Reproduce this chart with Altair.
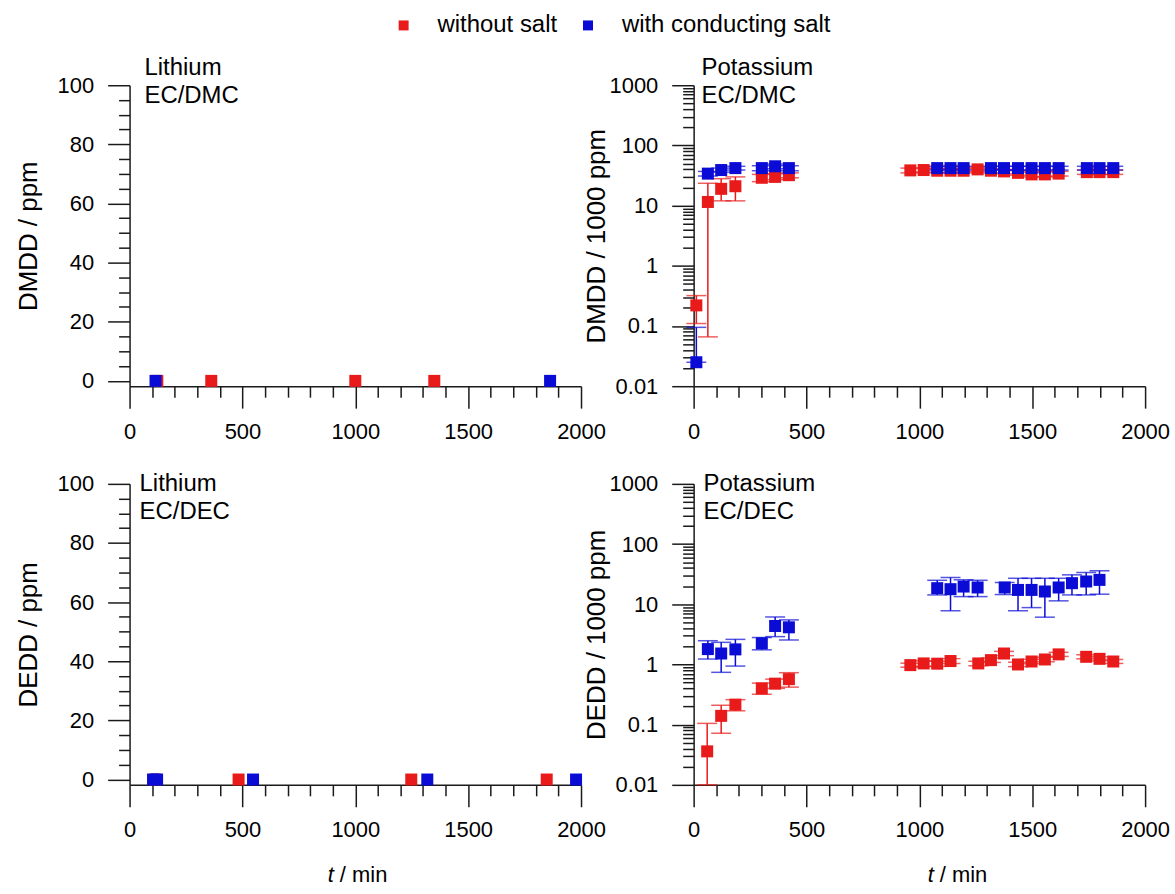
import altair as alt
import pandas as pd

RED = "#e81a1a"
BLUE = "#0b0bd6"
SERIES = ["without salt", "with conducting salt"]
FONT = "Liberation Sans"

# ---------------- data ----------------
# Lithium, EC/DMC  (DMDD / ppm)
li_dmc_red_t = [123, 362, 1000, 1350]
li_dmc_red_v = [0, 0, 0, 0]
li_dmc_blue_t = [115, 1863]
li_dmc_blue_v = [0, 0]

# Lithium, EC/DEC  (DEDD / ppm)
li_dec_red_t = [113, 483, 1248, 1848]
li_dec_red_v = [0, 0, 0, 0]
li_dec_blue_t = [104, 122, 547, 1319, 1978]
li_dec_blue_v = [0, 0, 0, 0, 0]

# Potassium, EC/DMC  (DMDD / 1000 ppm)
k_dmc_red_t = [12, 63, 122, 185, 302, 361, 422, 960, 1019, 1079, 1138, 1196, 1258, 1317, 1375, 1437, 1497, 1556, 1617, 1742, 1798, 1859]
k_dmc_red_v = [0.22, 11.5, 19, 21, 29, 30, 32, 38.5, 39, 38, 38, 38, 40, 38, 37, 35, 33, 33, 34, 36, 36, 36]
k_dmc_red_lo = [0.11, 0.066, 12, 12, 25, 27, 29, 35, 36, 35, 35, 35, 37, 35, 34, 32, 30, 30, 31, 33, 33, 33]
k_dmc_red_hi = [0.32, 23.5, 28, 30, 33, 34, 35, 42, 42, 41, 41, 41, 43, 41, 40, 38, 36, 36, 37, 39, 39, 39]
k_dmc_blue_t = [12, 63, 122, 185, 302, 361, 422, 1079, 1138, 1196, 1317, 1375, 1437, 1497, 1556, 1617, 1742, 1798, 1859]
k_dmc_blue_v = [0.025, 34, 39, 42, 42, 45, 42, 42, 42, 42, 42, 42, 42, 42, 42, 42, 42, 42, 42]
k_dmc_blue_lo = [0.025, 31, 36, 39, 38, 41, 38, 39, 39, 39, 39, 39, 39, 39, 39, 39, 39, 39, 39]
k_dmc_blue_hi = [0.095, 37, 42, 45, 46, 49, 46, 45, 45, 45, 45, 45, 45, 45, 45, 45, 45, 45, 45]

# Potassium, EC/DEC  (DEDD / 1000 ppm)
k_dec_red_t = [60, 122, 185, 302, 361, 422, 960, 1019, 1079, 1138, 1261, 1317, 1375, 1437, 1497, 1556, 1617, 1739, 1798, 1859]
k_dec_red_v = [0.036, 0.14, 0.215, 0.40, 0.48, 0.57, 0.975, 1.04, 1.03, 1.14, 1.04, 1.18, 1.52, 1.0, 1.12, 1.21, 1.47, 1.34, 1.24, 1.12]
k_dec_red_lo = [0.01, 0.072, 0.17, 0.32, 0.40, 0.42, 0.90, 0.93, 0.93, 1.04, 0.95, 1.08, 1.40, 0.92, 1.03, 1.11, 1.36, 1.24, 1.15, 1.04]
k_dec_red_hi = [0.105, 0.21, 0.26, 0.49, 0.57, 0.73, 1.05, 1.15, 1.13, 1.25, 1.13, 1.28, 1.65, 1.09, 1.22, 1.32, 1.59, 1.45, 1.34, 1.21]
k_dec_blue_t = [63, 122, 185, 302, 361, 422, 1079, 1138, 1196, 1258, 1378, 1437, 1497, 1556, 1617, 1676, 1739, 1798]
k_dec_blue_v = [1.8, 1.52, 1.78, 2.24, 4.35, 4.14, 18.5, 17.8, 19.7, 19, 19, 17.3, 17.3, 16.3, 19, 22.4, 23.9, 25.4]
k_dec_blue_lo = [1.23, 0.74, 0.94, 1.75, 2.9, 2.55, 14.3, 7.8, 13.4, 13.4, 14.5, 7.8, 8.8, 6.1, 11.4, 14.3, 14.3, 14.7]
k_dec_blue_hi = [2.48, 2.33, 2.61, 2.8, 6.15, 5.5, 25, 27.8, 25.5, 25, 23, 27, 27, 27, 27, 30.8, 33.7, 36]

x_major = [0, 500, 1000, 1500, 2000]
x_minor = [v for v in range(100, 2000, 100) if v % 500 != 0]
lin_major = [0, 20, 40, 60, 80, 100]
lin_minor = [v for v in range(5, 100, 5) if v % 20 != 0]
log_major = [0.01, 0.1, 1, 10, 100, 1000]
log_minor = [k * 10.0 ** e for e in range(-2, 3) for k in range(2, 10)]

W, H = 453, 302


def frame(red_t, red_v, blue_t, blue_v, red_lo=None, red_hi=None, blue_lo=None, blue_hi=None):
    rows = []
    for i, (t, v) in enumerate(zip(red_t, red_v)):
        rows.append(dict(t=t, v=v, lo=red_lo[i] if red_lo else v, hi=red_hi[i] if red_hi else v, s=SERIES[0]))
    for i, (t, v) in enumerate(zip(blue_t, blue_v)):
        rows.append(dict(t=t, v=v, lo=blue_lo[i] if blue_lo else v, hi=blue_hi[i] if blue_hi else v, s=SERIES[1]))
    return pd.DataFrame(rows)


LEGEND = alt.Legend(
    title=None, orient="none", legendX=263, legendY=-72, direction="horizontal",
    symbolType="square", symbolSize=100, symbolStrokeWidth=0,
    labelFontSize=24, labelFont=FONT, labelColor="black", labelOffset=22,
    columnPadding=18, labelLimit=400,
)
color_scale = alt.Scale(domain=SERIES, range=[RED, BLUE])


def panel(df, log, ytitle, title_pad, ann, ann_x, ann_y, errors, xtitle_x=None):
    xs = alt.Scale(domain=[0, 2000], nice=False, zero=False)
    if log:
        ys = alt.Scale(type="log", domain=[0.01, 1000], nice=False)
        ymaj, ymin, yfmt = log_major, log_minor, "~g"
    else:
        ys = alt.Scale(domain=[-1.8, 100], nice=False, zero=False)
        ymaj, ymin, yfmt = lin_major, lin_minor, "d"

    ax_x = alt.Axis(values=x_major, orient="bottom", tickSize=22, labelPadding=13, title=None,
                    format="d", labelFlush=False, labelOverlap=False, grid=False)
    ax_y = alt.Axis(values=ymaj, orient="left", tickSize=22, labelPadding=14, title=ytitle,
                    titlePadding=title_pad, format=yfmt, labelOverlap=False, grid=False)
    ax_xm = alt.Axis(values=x_minor, orient="bottom", tickSize=11, labels=False, domain=False,
                     title=None, grid=False)
    ax_ym = alt.Axis(values=ymin, orient="left", tickSize=11, labels=False, domain=False,
                     title=None, grid=False)

    base = alt.Chart(df)
    layers = [
        base.mark_point(opacity=0).encode(
            x=alt.X("t:Q", scale=xs, axis=ax_xm),
            y=alt.Y("v:Q", scale=ys, axis=ax_ym),
        )
    ]
    if errors:
        layers.append(
            base.mark_rule(strokeWidth=1.5).encode(
                x=alt.X("t:Q", scale=xs, axis=None),
                y=alt.Y("lo:Q", scale=ys, axis=None),
                y2="hi:Q",
                color=alt.Color("s:N", scale=color_scale, legend=None),
            )
        )
        layers.append(
            base.transform_fold(["lo", "hi"], as_=["k", "ev"]).mark_tick(
                orient="horizontal", size=20, thickness=1.5
            ).encode(
                x=alt.X("t:Q", scale=xs, axis=None),
                y=alt.Y("ev:Q", scale=ys, axis=None),
                color=alt.Color("s:N", scale=color_scale, legend=None),
            )
        )
    layers.append(
        base.mark_square(size=145, opacity=1).encode(
            x=alt.X("t:Q", scale=xs, axis=ax_x),
            y=alt.Y("v:Q", scale=ys, axis=ax_y),
            color=alt.Color("s:N", scale=color_scale, legend=LEGEND),
        )
    )
    layers.append(
        alt.Chart(pd.DataFrame({"label": ["\n".join(ann)]})).mark_text(
            align="left", baseline="alphabetic", fontSize=24, font=FONT, color="black",
            lineBreak="\n", lineHeight=28,
        ).encode(text="label:N", x=alt.value(ann_x), y=alt.value(ann_y))
    )
    if xtitle_x is not None:
        layers.append(
            alt.Chart(pd.DataFrame({"label": ["t"]})).mark_text(
                align="right", baseline="alphabetic", fontSize=22, font=FONT, fontStyle="italic",
                color="black",
            ).encode(text="label:N", x=alt.value(xtitle_x), y=alt.value(H + 97))
        )
        layers.append(
            alt.Chart(pd.DataFrame({"label": ["/ min"]})).mark_text(
                align="left", baseline="alphabetic", fontSize=22, font=FONT, color="black",
            ).encode(text="label:N", x=alt.value(xtitle_x + 6), y=alt.value(H + 97))
        )
    return alt.layer(*layers).resolve_axis(x="independent", y="independent").properties(width=W, height=H)


tl = panel(frame(li_dmc_red_t, li_dmc_red_v, li_dmc_blue_t, li_dmc_blue_v), False,
           "DMDD / ppm", 16, ["Lithium", "EC/DMC"], 15, -10, False)
tr = panel(frame(k_dmc_red_t, k_dmc_red_v, k_dmc_blue_t, k_dmc_blue_v,
                 k_dmc_red_lo, k_dmc_red_hi, k_dmc_blue_lo, k_dmc_blue_hi), True,
           "DMDD / 1000 ppm", 0, ["Potassium", "EC/DMC"], 8, -10, True)
bl = panel(frame(li_dec_red_t, li_dec_red_v, li_dec_blue_t, li_dec_blue_v), False,
           "DEDD / ppm", 16, ["Lithium", "EC/DEC"], 10, 7, False, xtitle_x=205)
br = panel(frame(k_dec_red_t, k_dec_red_v, k_dec_blue_t, k_dec_blue_v,
                 k_dec_red_lo, k_dec_red_hi, k_dec_blue_lo, k_dec_blue_hi), True,
           "DEDD / 1000 ppm", 0, ["Potassium", "EC/DEC"], 10, 7, True, xtitle_x=241)

chart = alt.concat(
    tl, tr, bl, br, columns=2, spacing={"row": 98, "column": 113}, bounds="flush"
).properties(
    padding={"left": 15, "top": 12, "right": 5, "bottom": 5}
).configure(
    font=FONT
).configure_view(
    strokeWidth=0
).configure_axis(
    domainColor="#1a1a1a", tickColor="#1a1a1a", domainWidth=1.5, tickWidth=1.5,
    labelColor="black", titleColor="black", labelFontSize=22, titleFontSize=26,
    titleFontWeight="normal", labelFont=FONT, titleFont=FONT,
)

chart.save("out.html", embed_options={"renderer": "svg", "actions": False})
